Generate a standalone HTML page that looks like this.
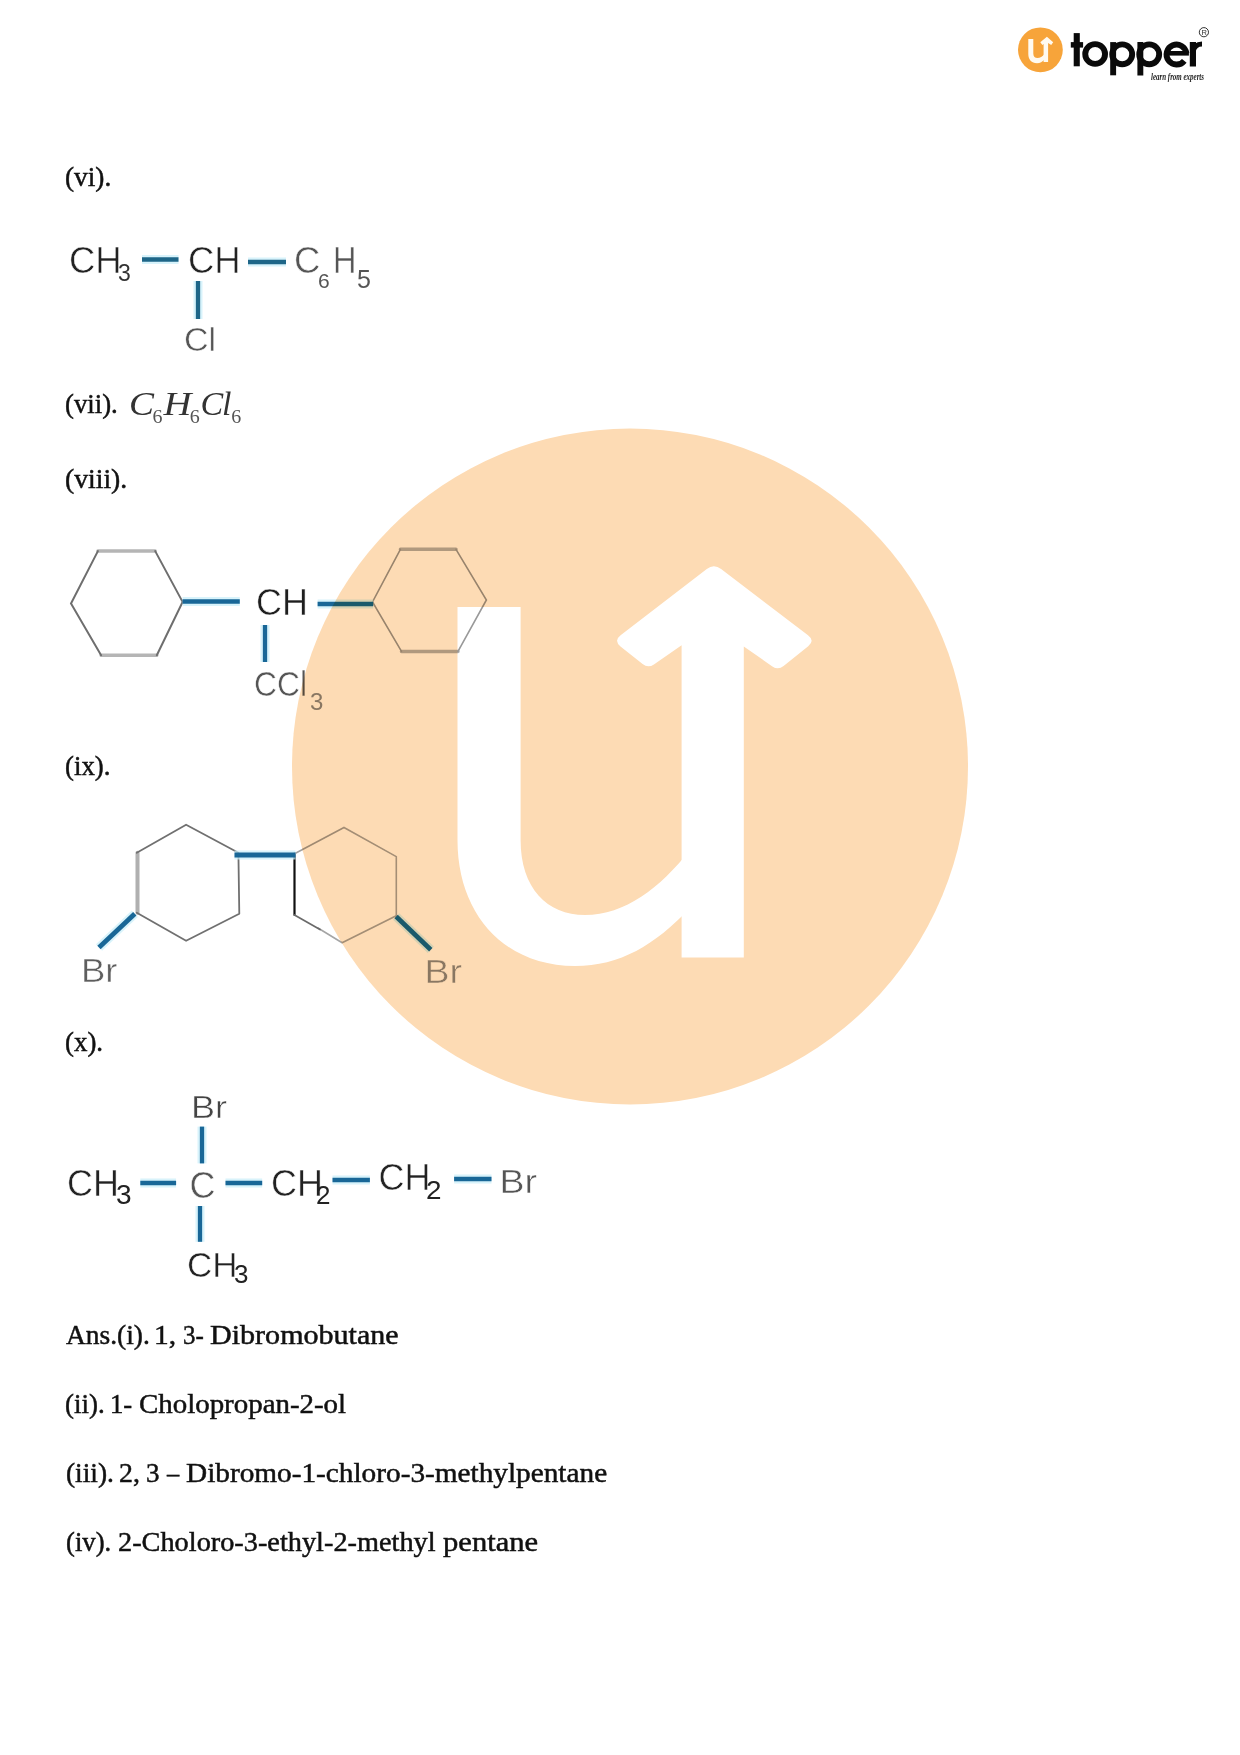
<!DOCTYPE html>
<html>
<head>
<meta charset="utf-8">
<style>
html,body{margin:0;padding:0;background:#fff;}
body{width:1240px;height:1755px;position:relative;overflow:hidden;}
#wm{position:absolute;left:0;top:0;width:1240px;height:1755px;}
#mol{position:absolute;left:0;top:0;width:1240px;height:1755px;mix-blend-mode:multiply;}
#mol text{stroke:#fff;stroke-width:0.5px;}
#mol .m text,#mol text.sub{stroke:none;}
.t{position:absolute;font-family:"Liberation Serif",serif;font-size:28px;line-height:28px;color:#111;white-space:nowrap;transform-origin:0 0;-webkit-text-stroke:0.5px #111;}
.s{font-family:"Liberation Sans",sans-serif;}
</style>
</head>
<body>
<svg id="wm" width="1240" height="1755" viewBox="0 0 1240 1755">
  <circle cx="630" cy="766.5" r="338" fill="#fddbb4"/>
  <path fill="#fff" d="M457.5,606.9 L520.6,606.9 L520.6,840 C520.6,888 547,915 585,915 C625,915 660,888 690,850 L690,908 C655,945 620,966 575,966 C505,966 457.5,915 457.5,840 Z"/>
  <path fill="#fff" d="M706.8,569.1 Q713.9,563.6 721.1,569.1 L808.0,635.2 Q815.2,640.7 808.2,646.3 L783.6,666.0 Q778.1,670.4 772.4,666.4 L743.8,646.4 L743.8,957.5 L681.6,957.5 L681.6,645.3 L653.9,664.4 Q648.1,668.4 642.6,664.0 L620.5,646.4 Q613.5,640.8 620.6,635.3 Z"/>
</svg>

<svg id="logo" style="position:absolute;left:0;top:0" width="1240" height="100" viewBox="0 0 1240 100">
  <circle cx="1040.4" cy="49.8" r="22.4" fill="#f7a43a"/>
  <path d="M1028.3,39.1 L1033.3,39.1 L1033.3,53.5 C1033.3,56.5 1035,58.1 1037.5,58.1 C1040,58.1 1042.5,56.5 1044.5,54 L1044.5,59.5 C1042.5,61.8 1040,63.3 1037,63.3 C1031.5,63.3 1028.3,59.5 1028.3,54 Z" fill="#fffaf0"/>
  <path d="M1043.6,62.1 L1048.1,62.1 L1048.1,43 L1051.2,45 L1053.2,42.2 L1046.9,36.7 L1040.3,42.2 L1042.4,45 L1043.6,44 Z" fill="#fffaf0"/>
  <g fill="#0a0a0a">
    <rect x="1073.7" y="33.1" width="6.1" height="33.2"/>
    <rect x="1070.8" y="42.1" width="12.3" height="5.5"/>
    <rect x="1110.2" y="42.1" width="5.9" height="33.2"/>
    <rect x="1137.4" y="42" width="5.9" height="33.5"/>
    <rect x="1189.8" y="42" width="6.2" height="24.5"/>
    <rect x="1167" y="51" width="21.9" height="4.6"/>
  </g>
  <g fill="none" stroke="#0a0a0a" stroke-width="5.9">
    <circle cx="1095.15" cy="54" r="9.9"/>
    <circle cx="1122.2" cy="54.3" r="9.95"/>
    <circle cx="1149.2" cy="54.3" r="9.95"/>
    <path d="M1186.4,53.3 A9.95,9.95 0 1 0 1184.3,60.8"/>
    <path d="M1193,52 C1194,46.5 1197.5,44 1202,44" stroke-width="5"/>
  </g>
  <circle cx="1203.9" cy="32.2" r="4.6" fill="none" stroke="#333" stroke-width="1"/>
  <text x="1201.4" y="35" font-family="Liberation Sans, sans-serif" font-size="7.5" fill="#333">R</text>
  <text x="1151" y="79.5" font-family="Liberation Serif, serif" font-style="italic" font-weight="bold" font-size="11" fill="#222" textLength="53" lengthAdjust="spacingAndGlyphs">learn from experts</text>
</svg>



<div class="t" style="left:64.82px;top:163px;transform:scaleX(0.9756)">(vi).</div>
<div class="t" style="left:65.34px;top:389.8px;transform:scaleX(0.9566)">(vii).</div>
<div class="t" style="left:64.91px;top:465px;transform:scaleX(0.9883)">(viii).</div>
<div class="t" style="left:64.94px;top:752px;transform:scaleX(0.9578)">(ix).</div>
<div class="t" style="left:64.94px;top:1028px;transform:scaleX(0.9595)">(x).</div>
<div class="t" style="left:65.5px;top:1321px;transform:scaleX(0.9798)">Ans.(i).</div>
<div class="t" style="left:154.4px;top:1321px;transform:scaleX(1.05)">1,</div>
<div class="t" style="left:182.51px;top:1321px;transform:scaleX(0.8909)">3-</div>
<div class="t" style="left:209.93px;top:1321px;transform:scaleX(1.0736)">Dibromobutane</div>
<div class="t" style="left:65.04px;top:1390px;transform:scaleX(0.9615)">(ii).</div>
<div class="t" style="left:110.1px;top:1390px;transform:scaleX(0.9524)">1-</div>
<div class="t" style="left:139.37px;top:1390px;transform:scaleX(1.0322)">Cholopropan-2-ol</div>
<div class="t" style="left:65.52px;top:1459px;transform:scaleX(0.9783)">(iii).</div>
<div class="t" style="left:118.51px;top:1459px;transform:scaleX(0.9947)">2,</div>
<div class="t" style="left:146.13px;top:1459px;transform:scaleX(0.9667)">3</div>
<div class="t" style="left:166.7px;top:1459px;transform:scaleX(0.8733)">–</div>
<div class="t" style="left:185.95px;top:1459px;transform:scaleX(1.0456)">Dibromo-1-chloro-3-methylpentane</div>
<div class="t" style="left:65.55px;top:1528px;transform:scaleX(0.9533)">(iv).</div>
<div class="t" style="left:117.79px;top:1528px;transform:scaleX(1.0109)">2-Choloro-3-ethyl-2-methyl</div>
<div class="t" style="left:443.1px;top:1528px;transform:scaleX(1.0931)">pentane</div>

<svg id="mol" width="1240" height="1755" viewBox="0 0 1240 1755" font-family="Liberation Sans, sans-serif">
  <!-- vi -->
  <g stroke="#c8eef9" stroke-width="9" fill="none" opacity="0.7">
    <line x1="142" y1="259.5" x2="178.5" y2="259.5"/>
    <line x1="248" y1="262" x2="286" y2="262"/>
    <line x1="198" y1="281" x2="198" y2="319"/>
  </g>
  <g stroke="#1e6688" stroke-width="4.3" fill="none">
    <line x1="142" y1="259.5" x2="178.5" y2="259.5"/>
    <line x1="248" y1="262" x2="286" y2="262"/>
    <line x1="198" y1="281" x2="198" y2="319"/>
  </g>
  <g font-size="36.5" fill="#222">
    <text x="69" y="273">CH</text>
    <text x="188" y="273">CH</text>
  </g>
  <text class="sub" x="118" y="281" font-size="23" fill="#333">3</text>
  <g font-size="36.5" fill="#555">
    <text x="294" y="273">C</text>
    <text x="333" y="273" textLength="23.5" lengthAdjust="spacingAndGlyphs">H</text>
  </g>
  <text x="184" y="351" font-size="34" fill="#555">Cl</text>
  <text class="sub" x="318" y="287.5" font-size="21" fill="#555">6</text>
  <text class="sub" x="357" y="287.5" font-size="25" fill="#555">5</text>

  <!-- vii math -->
  <g class="m" font-family="Liberation Serif, serif" fill="#333">
    <text x="129" y="414.5" font-size="34" font-style="italic" textLength="25" lengthAdjust="spacingAndGlyphs">C</text>
    <text x="152.5" y="422.5" font-size="18" fill="#555" textLength="10" lengthAdjust="spacingAndGlyphs">6</text>
    <text x="163.5" y="414.5" font-size="34" font-style="italic" textLength="28" lengthAdjust="spacingAndGlyphs">H</text>
    <text x="189.8" y="422.5" font-size="18" fill="#555" textLength="10" lengthAdjust="spacingAndGlyphs">6</text>
    <text x="200.5" y="414.5" font-size="34" font-style="italic">C</text>
    <text x="222" y="414.5" font-size="34" font-style="italic">l</text>
    <text x="231.2" y="422.5" font-size="18" fill="#555" textLength="10" lengthAdjust="spacingAndGlyphs">6</text>
  </g>

  <!-- viii -->
  <g fill="none" stroke-linecap="round">
    <path d="M97.9,551.1 L155.2,551.1 M156.8,655.2 L101.1,655.2" stroke="#b5b5b5" stroke-width="3.5"/>
    <path d="M155.2,551.1 L182.6,601.9 L156.8,655.2 M101.1,655.2 L71,603.5 L97.9,551.1" stroke="#6e6e6e" stroke-width="2"/>
    <path d="M400.4,549.3 L456,549.3 M458,651.4 L401.5,651.4" stroke="#b2b2b2" stroke-width="3.5"/>
    <path d="M456,549.3 L486.4,600 L458,651.4 M401.5,651.4 L372.5,602 L400.4,549.3" stroke="#999" stroke-width="1.6"/>
  </g>
  <g stroke="#c8eef9" stroke-width="9" fill="none" opacity="0.7">
    <line x1="182.6" y1="601.5" x2="239.8" y2="601.5"/>
    <line x1="317.6" y1="604" x2="373.2" y2="604"/>
    <line x1="265" y1="625" x2="265" y2="662"/>
  </g>
  <g stroke="#196797" stroke-width="4.3" fill="none">
    <line x1="182.6" y1="601.5" x2="239.8" y2="601.5"/>
    <line x1="317.6" y1="604" x2="373.2" y2="604"/>
    <line x1="265" y1="625" x2="265" y2="662"/>
  </g>
  <text x="256" y="615" font-size="36" fill="#1e1e1e">CH</text>
  <text x="254" y="695.5" font-size="35" fill="#555" textLength="53" lengthAdjust="spacingAndGlyphs">CCl</text>
  <text class="sub" x="310" y="710" font-size="24" fill="#8a8a8a">3</text>

  <!-- ix -->
  <g fill="none" stroke-linecap="round" stroke-linejoin="round">
    <path d="M137.5,852.7 L137.5,912.7" stroke="#b0b0b0" stroke-width="4"/>
    <path d="M136.8,852.7 L186.1,824.7 L238.4,852.7 L239.3,913.7 L186.1,940.8 L136.8,912.7" stroke="#707070" stroke-width="1.8"/>
    <path d="M294.5,853.7 L294.5,915" stroke="#111" stroke-width="2.2"/>
    <path d="M294.5,853.7 L344,827.5" stroke="#a0a0a0" stroke-width="1.6"/><path d="M344,827.5 L396.3,856.6 L396.3,915.7 L342.1,942.8 L318,928" stroke="#a5a5a5" stroke-width="1.6"/><path d="M320,929.5 L294.5,915" stroke="#6a6a6a" stroke-width="1.7"/>
  </g>
  <g stroke="#c8eef9" stroke-width="9" fill="none" opacity="0.7">
    <line x1="234.5" y1="855" x2="295.5" y2="855"/>
    <line x1="134.8" y1="913.7" x2="99" y2="947.6"/>
    <line x1="396.1" y1="916.6" x2="430.8" y2="949.7"/>
  </g>
  <g stroke="#196797" stroke-width="4.8" fill="none">
    <line x1="234.5" y1="855" x2="295.5" y2="855"/>
    <line x1="134.8" y1="913.7" x2="99" y2="947.6"/>
    <line x1="396.1" y1="916.6" x2="430.8" y2="949.7"/>
  </g>
  <text x="81" y="981.5" font-size="33.5" fill="#5e5e5e" textLength="36.5" lengthAdjust="spacingAndGlyphs">Br</text>
  <text x="424.5" y="982.7" font-size="33.5" fill="#8a8a8a" textLength="37.5" lengthAdjust="spacingAndGlyphs">Br</text>

  <!-- x -->
  <g stroke="#c8eef9" stroke-width="9" fill="none" opacity="0.7">
    <line x1="202" y1="1126.6" x2="202" y2="1163.4"/>
    <line x1="140.3" y1="1183" x2="176.1" y2="1183"/>
    <line x1="225.5" y1="1183" x2="262.2" y2="1183"/>
    <line x1="332.5" y1="1180" x2="369.9" y2="1180"/>
    <line x1="454.1" y1="1179" x2="491.5" y2="1179"/>
    <line x1="200" y1="1206" x2="200" y2="1241.8"/>
  </g>
  <g stroke="#196797" stroke-width="4.3" fill="none">
    <line x1="202" y1="1126.6" x2="202" y2="1163.4"/>
    <line x1="140.3" y1="1183" x2="176.1" y2="1183"/>
    <line x1="225.5" y1="1183" x2="262.2" y2="1183"/>
    <line x1="332.5" y1="1180" x2="369.9" y2="1180"/>
    <line x1="454.1" y1="1179" x2="491.5" y2="1179"/>
    <line x1="200" y1="1206" x2="200" y2="1241.8"/>
  </g>
  <g fill="#222">
    <text x="191" y="1118" font-size="31" fill="#444" textLength="36" lengthAdjust="spacingAndGlyphs">Br</text>
    <text x="67" y="1196.3" font-size="36">CH</text>
    <text class="sub" x="116" y="1204" font-size="28">3</text>
    <text x="189.5" y="1198.2" font-size="36" fill="#555">C</text>
    <text x="271" y="1196.1" font-size="36">CH</text>
    <text class="sub" x="316" y="1204.3" font-size="26">2</text>
    <text x="378.5" y="1190.3" font-size="36">CH</text>
    <text class="sub" x="426" y="1198.8" font-size="26" textLength="15.5" lengthAdjust="spacingAndGlyphs">2</text>
    <text x="499.5" y="1192.6" font-size="33.5" fill="#555" textLength="37.5" lengthAdjust="spacingAndGlyphs">Br</text>
    <text x="187" y="1276.6" font-size="35">CH</text>
    <text class="sub" x="234" y="1283.4" font-size="26">3</text>
  </g>
</svg>
</body>
</html>
